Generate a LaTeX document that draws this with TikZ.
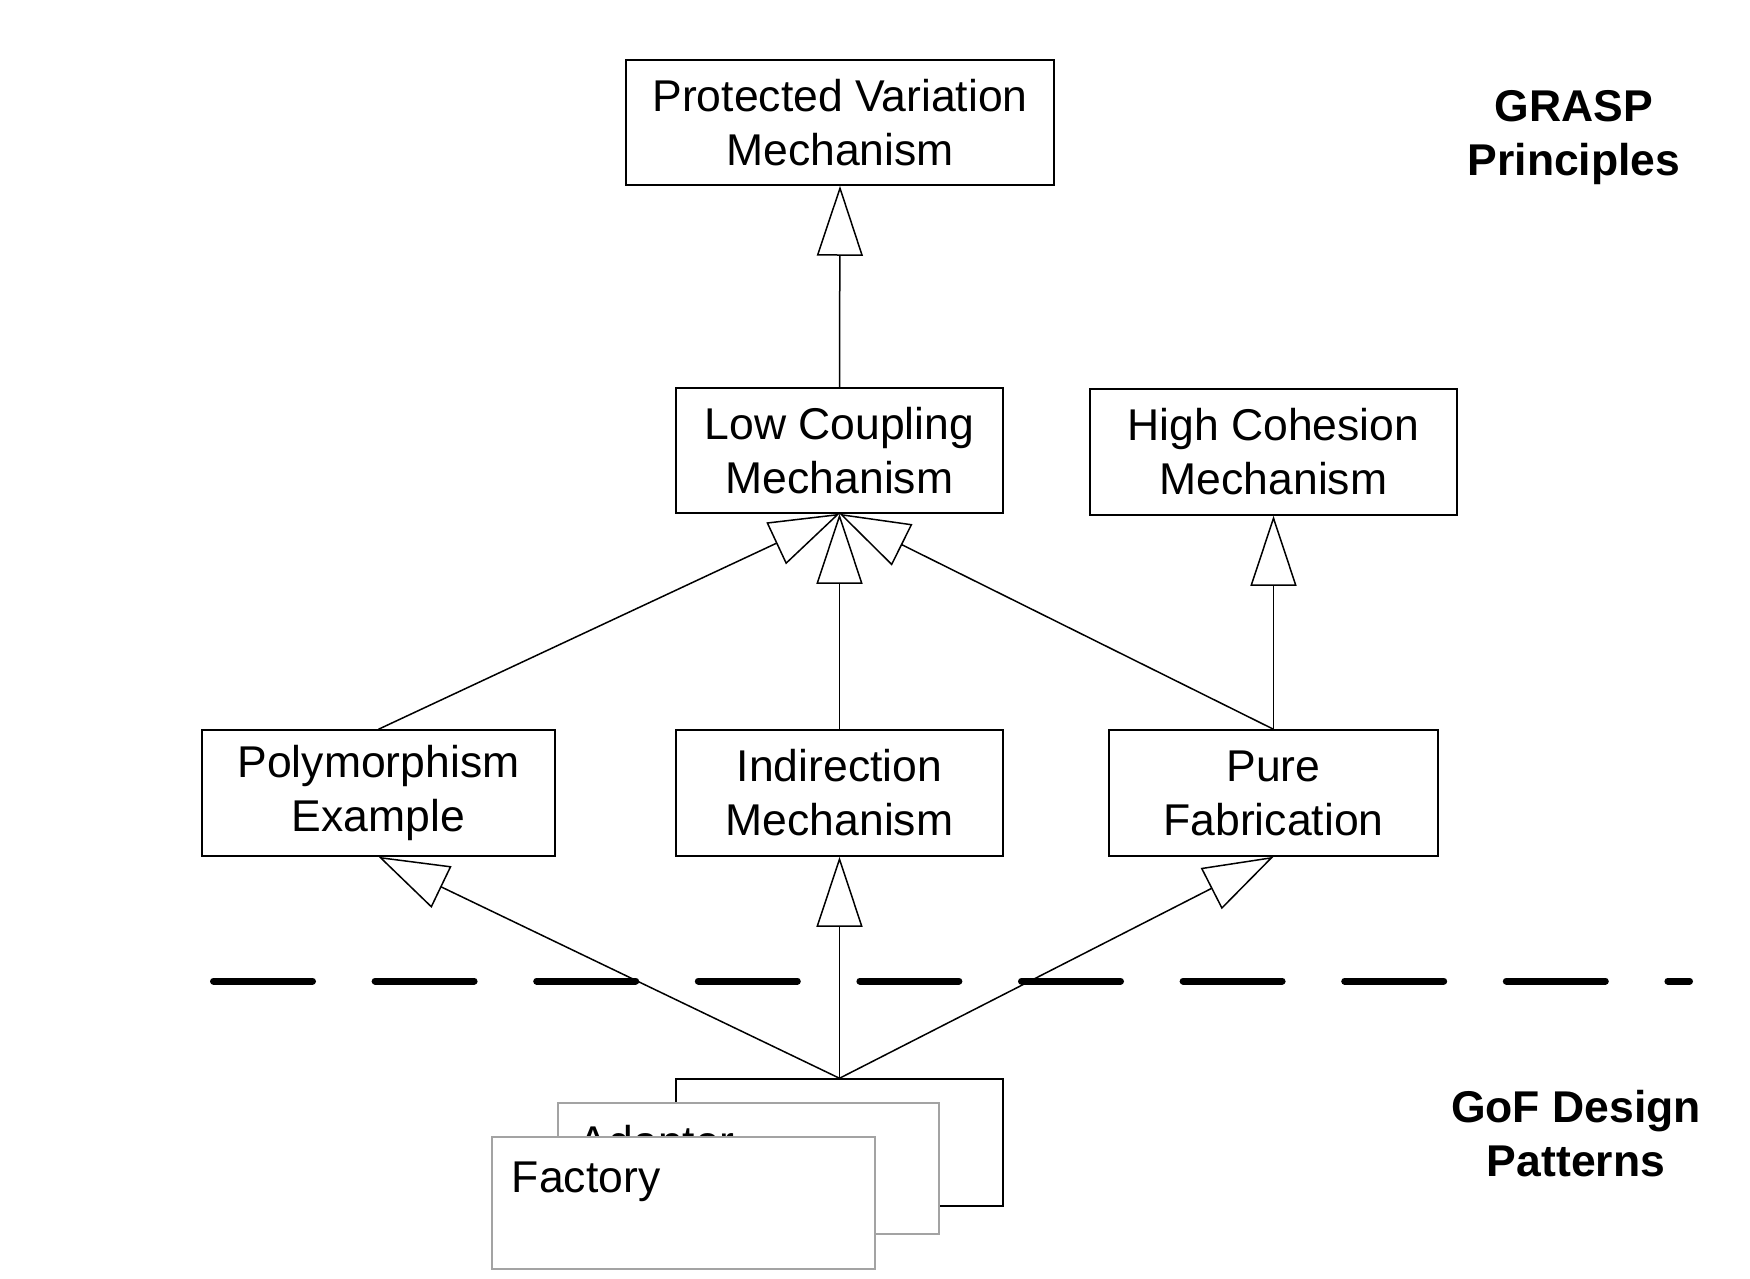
\documentclass[tikz,border=0pt]{standalone}
\usepackage{fontspec}
\setmainfont{Liberation Sans}
\usetikzlibrary{arrows.meta}
\begin{document}
\begin{tikzpicture}[x=1pt,y=-1pt,
  box/.style={draw=black,line width=1.5pt,fill=white,rectangle,inner sep=0pt,align=center,
    font=\fontsize{44.5}{54}\selectfont},
  graybox/.style={draw=black!36,line width=2.5pt,fill=white,rectangle,inner sep=0pt},
  gen/.style={draw=black,line width=1.5pt,-{Triangle[open,length=70pt,width=46pt]}},
  title/.style={align=center,font=\fontsize{44.5}{54}\selectfont\bfseries},
  sep/.style={line width=7pt,line cap=round,dash pattern=on 99pt off 62.6pt}]
\useasboundingbox (0,0) rectangle (1750,1278);
% boxes
\node[box,minimum width=428pt,minimum height=125pt] (PV) at (840,122.5) {Protected Variation\\Mechanism};
\node[box,minimum width=327pt,minimum height=125pt] (LC) at (839.5,450.5) {Low Coupling\\Mechanism};
\node[box,minimum width=367pt,minimum height=126pt] (HC) at (1273.5,452) {High Cohesion\\Mechanism};
\node[box,minimum width=353pt,minimum height=126pt] (PM) at (378.5,793) {Polymorphism\\Example};
\node[box,minimum width=327pt,minimum height=126pt] (IN) at (839.5,793) {Indirection\\Mechanism};
\node[box,minimum width=329pt,minimum height=126pt] (PF) at (1273.5,793) {Pure\\Fabrication};
% separator
\coordinate (dl) at (213.5,981);
\coordinate (dr) at (1689.5,981);
\draw[sep] (dl) -- (dr);
% titles
\node[title] (grasp) at (1574,138) {GRASP\\Principles};
\node[title] (gof) at (1576,1134) {GoF Design\\Patterns};
% back box
\node[box,minimum width=327pt,minimum height=127pt] (BK) at (839.5,1142.5) {};
% connectors
\draw[gen] (LC.north) -- (PV.south);
\draw[gen] (PM.north) -- (LC.south);
\draw[gen] (IN.north) -- (LC.south);
\draw[gen] (PF.north) -- (LC.south);
\draw[gen] (PF.north) -- (HC.south);
\draw[gen] (BK.north) -- (PM.south);
\draw[gen] (BK.north) -- (IN.south);
\draw[gen] (BK.north) -- (PF.south);
% stacked pattern boxes
\node[graybox,minimum width=381pt,minimum height=131pt] (AD) at (748.5,1168.5) {};
\node[anchor=north west,inner sep=0pt,font=\fontsize{44.5}{54}\selectfont] (adt) at ([xshift=22pt,yshift=-23pt]AD.north west) {Adapter};
\node[graybox,minimum width=383pt,minimum height=132pt] (FA) at (683.5,1203) {};
\node[anchor=north west,inner sep=0pt,font=\fontsize{44.5}{54}\selectfont] (fat) at ([xshift=21pt,yshift=-26pt]FA.north west) {Factory};
\end{tikzpicture}
\end{document}
